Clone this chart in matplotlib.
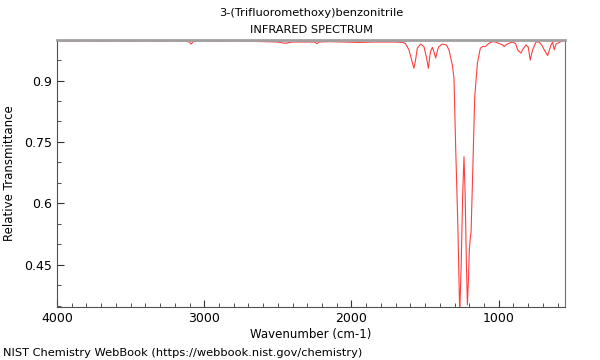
import numpy as np
import matplotlib
matplotlib.use("Agg")
import matplotlib.pyplot as plt
from matplotlib.ticker import MultipleLocator

TITLE = "3-(Trifluoromethoxy)benzonitrile"
SUBTITLE = "INFRARED SPECTRUM"
CREDIT = "NIST Chemistry WebBook (https://webbook.nist.gov/chemistry)"

# wavenumber (cm-1) and relative transmittance
wavenumber = [
    4000, 3900, 3800, 3700, 3600, 3500, 3400, 3300, 3200, 3130, 3100, 3089,
    3075, 3050, 3000, 2900, 2800, 2700, 2600, 2500, 2450, 2400, 2300, 2250,
    2234, 2220, 2150, 2050, 1950, 1850, 1750, 1700, 1650, 1633, 1610, 1590,
    1576, 1565, 1553, 1530, 1508, 1490, 1478, 1468, 1463, 1451, 1440, 1428,
    1415, 1406, 1383, 1356, 1338, 1315, 1304, 1292, 1278, 1265, 1255, 1245,
    1236, 1228, 1220, 1213, 1205, 1200, 1193, 1188, 1178, 1163, 1145, 1125,
    1110, 1091, 1066, 1042, 1020, 995, 974, 963, 952, 930, 906, 885,
    872, 850, 838, 815, 800, 786, 770, 747, 725, 705, 691, 668,
    645, 634, 623, 611, 590, 577, 550,
]
transmittance = [
    0.997, 0.996, 0.997, 0.996, 0.997, 0.996, 0.997, 0.996, 0.997, 0.996, 0.994, 0.989,
    0.995, 0.997, 0.997, 0.996, 0.997, 0.996, 0.995, 0.994, 0.991, 0.994, 0.994, 0.994,
    0.990, 0.994, 0.995, 0.994, 0.993, 0.994, 0.994, 0.994, 0.993, 0.990, 0.975, 0.948,
    0.930, 0.950, 0.979, 0.989, 0.983, 0.955, 0.930, 0.960, 0.971, 0.981, 0.970, 0.955,
    0.975, 0.983, 0.989, 0.987, 0.975, 0.938, 0.906, 0.730, 0.550, 0.330, 0.450, 0.620,
    0.714, 0.620, 0.460, 0.352, 0.420, 0.486, 0.516, 0.530, 0.658, 0.861, 0.942, 0.979,
    0.983, 0.983, 0.991, 0.995, 0.994, 0.990, 0.987, 0.983, 0.987, 0.991, 0.994, 0.990,
    0.975, 0.967, 0.975, 0.987, 0.982, 0.950, 0.975, 0.994, 0.994, 0.985, 0.975, 0.961,
    0.987, 0.994, 0.975, 0.989, 0.993, 0.995, 0.999,
]

fig = plt.figure(figsize=(6, 3.6), dpi=100)
ax = fig.add_axes([57 / 600, 53 / 360, 508 / 600, 267 / 360])

ax.plot(wavenumber, transmittance, color="#ff2a2a", lw=0.8, alpha=0.9)

ax.set_xlim(4000, 550)
ax.set_ylim(0.347, 0.999)
ax.xaxis.set_major_locator(MultipleLocator(1000))
ax.xaxis.set_minor_locator(MultipleLocator(100))
ax.set_yticks([0.45, 0.6, 0.75, 0.9])
ax.set_yticklabels(["0.45", "0.6", "0.75", "0.9"])
ax.yaxis.set_minor_locator(MultipleLocator(0.05))
ax.tick_params(which="both", direction="in", top=False, right=False,
               labelsize=9, color="#333333")
ax.tick_params(which="major", length=5)
ax.tick_params(which="minor", length=3)

ax.spines["top"].set_color("#a0a0a0")
ax.spines["top"].set_linewidth(2)
ax.spines["right"].set_color("#707070")
ax.spines["left"].set_color("#505050")
ax.spines["bottom"].set_color("#505050")

ax.set_xlabel("Wavenumber (cm-1)", fontsize=8.5, labelpad=2)
ax.set_ylabel("Relative Transmittance", fontsize=8.5, labelpad=6)

fig.text(311 / 600, 1 - 13 / 360, TITLE, ha="center", va="center", fontsize=8.2)
fig.text(311 / 600, 1 - 30 / 360, SUBTITLE, ha="center", va="center", fontsize=8.2)
fig.text(3 / 600, 1 - 353 / 360, CREDIT, ha="left", va="center", fontsize=8.2)

fig.savefig("out.png", dpi=100)
